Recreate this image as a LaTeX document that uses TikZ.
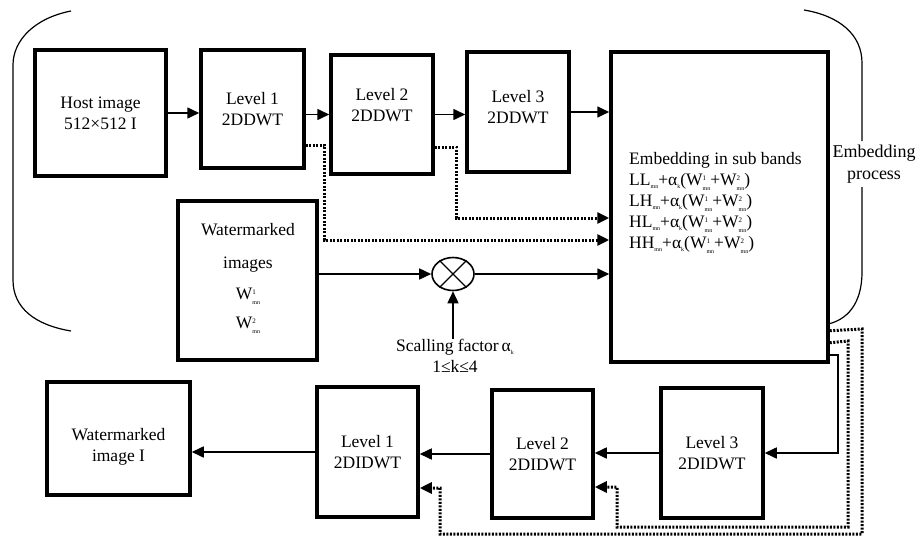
\documentclass[tikz,border=0pt]{standalone}
\usepackage{fontspec}
\setmainfont{Liberation Serif}
\usetikzlibrary{arrows.meta,shapes.geometric}
\newcommand{\smn}{\raisebox{-0.3ex}{\fontsize{6}{6}\selectfont mn}}
\newcommand{\Wx}[1]{W\raisebox{-0.55ex}{\fontsize{6}{6.5}\selectfont\shortstack[l]{\fontsize{7}{7}\selectfont #1\\[3.5pt]mn}}}
\newcommand{\aks}{α\raisebox{-0.3ex}{\fontsize{6}{6}\selectfont k}}
\begin{document}
\begin{tikzpicture}[x=1pt,y=-1pt,
  font=\fontsize{17.5}{21}\selectfont,
  blk/.style={draw, line width=3.5pt, align=center, inner sep=0pt},
  arr/.style={line width=1.6pt, -{Triangle[length=12pt,width=11pt]}},
  dotarr/.style={line width=3pt, dash pattern=on 2pt off 1.5pt, -{Triangle[length=12pt,width=11pt]}},
  brk/.style={line width=1.2pt},
  txt/.style={align=center, inner sep=0pt}]
\useasboundingbox (0,0) rectangle (921,538);

% upper row
\node[blk, minimum width=131pt, minimum height=126pt] (host) at (100.5,113) {Host image\\512×512 I};
\node[blk, minimum width=103pt, minimum height=118pt] (l1) at (252.5,109) {Level 1\\2DDWT};
\node[blk, minimum width=102pt, minimum height=119pt] (l2) at (382,114.5) {};
\node[txt] (l2t) at (382,105) {Level 2\\2DDWT};
\node[blk, minimum width=102pt, minimum height=120pt] (l3) at (518,112) {};
\node[txt] (l3t) at (518,107) {Level 3\\2DDWT};
\node[blk, minimum width=217pt, minimum height=310pt] (emb) at (719.5,207) {};
\node[align=left, inner sep=0pt, anchor=west] (embt) at (629,203)
  {Embedding in sub bands\\
   LL\smn+\aks(\Wx{1}+\Wx{2})\\
   LH\smn+\aks(\Wx{1}+\Wx{2})\\
   HL\smn+\aks(\Wx{1}+\Wx{2})\\
   HH\smn+\aks(\Wx{1}+\Wx{2})};
\node[txt, font=\fontsize{18}{22}\selectfont] (proc) at (874,164) {Embedding\\process};

\node[blk, minimum width=139pt, minimum height=159pt] (wm) at (247.5,280.5) {};
\node[txt] (wmt) at (248,278) {Watermarked\\[12.5pt]images\\[10pt]\Wx{1}\\[8pt]\Wx{2}};
\node[draw, ellipse, line width=1.6pt, minimum width=42pt, minimum height=33pt, inner sep=0pt] (mult) at (453,274) {};
\draw[line width=1.4pt] (mult.135) -- (mult.-45) (mult.45) -- (mult.-135);
\node[txt] (sf) at (455,356) {Scalling factor\,\aks\\1≤k≤4};

% lower row
\node[blk, minimum width=143pt, minimum height=113pt] (out) at (118.5,438.5) {};
\node[txt] (outt) at (118.5,447) {Watermarked\\image I};
\node[blk, minimum width=101pt, minimum height=130pt] (il1) at (367.5,452) {Level 1\\2DIDWT};
\node[blk, minimum width=101pt, minimum height=128pt] (il2) at (542.5,454) {Level 2\\2DIDWT};
\node[blk, minimum width=102pt, minimum height=130pt] (il3) at (712,453) {Level 3\\2DIDWT};

% brackets
\draw[brk] (71,11) .. controls (35,18) and (13,40) .. (13,65) -- (13,280)
  .. controls (13,308) and (35,325) .. (71,331);
\draw[brk] (804,10) .. controls (840,16) and (862,35) .. (862,63) -- (862,141);
\draw[brk] (862,187) -- (862,272) .. controls (862,305) and (846,320) .. (828,324);

% upper connectors
\draw[arr] (host.east) -- (host.east -| l1.west);
\draw[arr] (l2.west -| l1.east) -- (l2.west);
\draw[arr] (l2.east) -- (l2.east -| l3.west);
\draw[arr] (l3.east) -- (l3.east -| emb.west);
\draw[dotarr] ([yshift=-36pt]l1.east) -- ++(19,0) |- ([yshift=-33pt]emb.west);
\draw[dotarr] ([yshift=-32.5pt]l2.east) -- ++(22,0) |- ([yshift=-11pt]emb.west);
\draw[arr] (mult.west -| wm.east) -- (mult.west);
\draw[arr] (mult.east) -- (mult.east -| emb.west);
\draw[arr] (mult.south |- sf.north) -- (mult.south);

% lower connectors
\draw[arr] ([yshift=9pt]emb.south east) -- ++(8,0) |- (il3.east);
\draw[arr] (il3.west) -- (il3.west -| il2.east);
\draw[arr] (il2.west) -- (il2.west -| il1.east);
\draw[arr] (il1.west) -- (il1.west -| out.east);
\draw[dotarr] ([yshift=33pt]emb.south east) -- (862,329) -- (862,534) -- (440,534) -- (440,488) -- ([yshift=-36pt]il1.east);
\draw[dotarr] ([yshift=21pt]emb.south east) -- (848,341) -- (848,527) -- (617,527) -- (617,487) -- ([yshift=-33pt]il2.east);
\end{tikzpicture}
\end{document}
